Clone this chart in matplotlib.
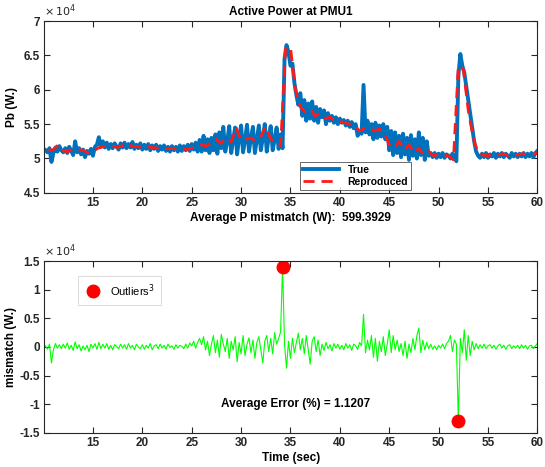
import numpy as np
import matplotlib
matplotlib.use("Agg")
import matplotlib.pyplot as plt

plt.rcParams['font.family'] = ['Liberation Sans', 'DejaVu Sans']

# Active power at PMU1 (x 1e4 W), sampled every 0.2 s from 10.2 s to 60.0 s
t_true = np.linspace(10.2, 60.0, 250)
p_true = [
    5.12, 5.09, 5.15, 4.95, 5.08, 5.16, 5.10, 5.18, 5.12, 5.09,
    5.15, 5.08, 5.17, 5.11, 5.05, 5.25, 5.09, 5.15, 5.06, 5.13,
    5.02, 5.11, 5.07, 5.14, 5.04, 5.17, 5.20, 5.31, 5.17, 5.25,
    5.16, 5.23, 5.14, 5.21, 5.15, 5.22, 5.17, 5.13, 5.22, 5.16,
    5.23, 5.15, 5.21, 5.16, 5.24, 5.14, 5.20, 5.15, 5.22, 5.13,
    5.20, 5.14, 5.21, 5.12, 5.19, 5.14, 5.20, 5.11, 5.18, 5.13,
    5.19, 5.11, 5.17, 5.10, 5.18, 5.12, 5.17, 5.10, 5.19, 5.11,
    5.18, 5.12, 5.20, 5.11, 5.21, 5.13, 5.23, 5.10, 5.27, 5.10,
    5.33, 5.12, 5.28, 5.08, 5.30, 5.12, 5.35, 5.07, 5.38, 5.15,
    5.46, 5.10, 5.25, 5.47, 5.08, 5.28, 5.45, 5.06, 5.30, 5.48,
    5.09, 5.27, 5.49, 5.10, 5.30, 5.46, 5.08, 5.28, 5.48, 5.12,
    5.30, 5.50, 5.10, 5.32, 5.47, 5.12, 5.28, 5.45, 5.14, 5.35,
    5.15, 6.45, 6.65, 6.55, 6.35, 6.38, 6.10, 5.92, 5.78, 5.95,
    5.62, 5.85, 5.55, 5.80, 5.58, 5.83, 5.55, 5.75, 5.52, 5.72,
    5.60, 5.70, 5.50, 5.66, 5.55, 5.62, 5.52, 5.60, 5.50, 5.58,
    5.52, 5.56, 5.48, 5.55, 5.46, 5.53, 5.44, 5.50, 5.33, 5.40,
    5.36, 6.07, 5.38, 5.55, 5.35, 5.50, 5.28, 5.52, 5.30, 5.48,
    5.32, 5.50, 5.28, 5.46, 5.12, 5.40, 5.05, 5.38, 5.08, 5.33,
    5.02, 5.36, 5.06, 5.30, 4.98, 5.34, 5.04, 5.28, 5.00, 5.38,
    5.05, 5.30, 4.98, 5.25, 5.04, 5.08, 5.02, 5.08, 5.01, 5.07,
    5.02, 5.08, 5.01, 5.06, 5.04, 5.00, 5.07, 5.02, 4.96, 6.20,
    6.52, 6.35, 6.25, 6.05, 5.85, 5.65, 5.45, 5.25, 5.10, 5.04,
    5.01, 5.07, 5.02, 5.08, 5.01, 5.06, 5.03, 5.08, 5.01, 5.07,
    5.03, 5.08, 5.02, 5.07, 5.04, 5.01, 5.08, 5.03, 5.07, 5.02,
    5.07, 5.03, 5.08, 5.02, 5.07, 5.03, 5.08, 5.02, 5.08, 5.11,
]

# Reproduced power (x 1e4 W), every 0.5 s from 10.5 s to 60.0 s
t_rep = np.linspace(10.5, 60.0, 100)
p_rep = [
    5.12, 5.13, 5.20, 5.11, 5.10, 5.14, 5.13, 5.12, 5.08, 5.10,
    5.15, 5.17, 5.19, 5.18, 5.16, 5.19, 5.20, 5.18, 5.17, 5.16,
    5.17, 5.16, 5.15, 5.16, 5.14, 5.15, 5.13, 5.14, 5.13, 5.15,
    5.16, 5.20, 5.18, 5.24, 5.28, 5.22, 5.30, 5.24, 5.45, 5.26,
    5.28, 5.30, 5.25, 5.32, 5.47, 5.28, 5.25, 5.18, 6.60, 6.62,
    6.00, 5.75, 5.68, 5.72, 5.62, 5.66, 5.58, 5.60, 5.55, 5.54,
    5.52, 5.50, 5.48, 5.40, 5.44, 5.45, 5.40, 5.43, 5.38, 5.20,
    5.15, 5.25, 5.12, 5.20, 5.08, 5.15, 5.05, 5.10, 5.04, 5.06,
    5.05, 5.04, 4.98, 6.35, 6.30, 5.70, 5.30, 5.08, 5.05, 5.04,
    5.06, 5.05, 5.07, 5.04, 5.06, 5.05, 5.07, 5.05, 5.06, 5.08,
]

# Mismatch between true and reproduced power (x 1e4 W), same grid as t_true
mismatch = [
    0.02, -0.04, 0.05, -0.28, -0.05, 0.06, -0.02, 0.04, -0.03, 0.05,
    -0.02, 0.07, -0.04, 0.03, -0.06, 0.09, -0.03, 0.04, -0.07, 0.02,
    -0.05, 0.03, -0.08, 0.05, -0.02, 0.06, -0.04, 0.08, -0.03, 0.05,
    -0.02, 0.06, -0.04, 0.03, -0.05, 0.04, 0.01, -0.03, 0.05, -0.02,
    0.04, -0.04, 0.06, -0.02, 0.03, -0.05, 0.05, 0.00, -0.03, 0.04,
    -0.04, 0.03, -0.02, 0.06, -0.05, 0.02, 0.04, -0.03, 0.05, -0.02,
    0.03, -0.04, 0.05, -0.01, 0.02, -0.04, 0.04, -0.02, 0.03, 0.01,
    -0.03, 0.05, -0.02, 0.07, 0.02, 0.10, -0.02, 0.08, 0.15, 0.04,
    0.18, -0.05, 0.10, -0.15, 0.05, 0.20, -0.10, 0.12, -0.18, 0.22,
    0.05, -0.08, 0.15, -0.20, 0.10, -0.05, 0.18, -0.26, 0.08, -0.12,
    0.20, -0.15, 0.05, 0.16, -0.10, 0.12, -0.20, 0.08, 0.18, -0.05,
    -0.28, 0.10, 0.20, -0.08, 0.15, -0.12, 0.25, 0.05, 0.15, 0.26,
    1.40, 0.05, -0.37, 0.10, -0.20, 0.15, -0.10, 0.08, 0.24, -0.05,
    0.15, -0.12, 0.20, -0.05, -0.30, 0.10, 0.18, -0.08, 0.12, -0.15,
    0.05, -0.06, 0.08, -0.03, 0.04, -0.07, 0.06, -0.02, 0.05, -0.04,
    0.03, -0.05, 0.06, -0.02, 0.04, -0.06, 0.05, 0.02, -0.04, 0.08,
    0.02, 0.57, -0.10, 0.12, -0.05, 0.20, -0.18, 0.15, -0.25, 0.10,
    -0.08, 0.18, -0.15, 0.05, 0.30, -0.10, 0.20, -0.05, 0.12, -0.08,
    0.06, -0.15, 0.10, -0.20, 0.05, -0.10, 0.15, -0.05, 0.20, 0.33,
    -0.10, 0.12, -0.05, 0.08, -0.03, 0.05, -0.04, 0.02, -0.05, 0.03,
    -0.02, 0.05, -0.03, 0.06, 0.10, 0.20, -0.08, 0.12, 0.05, -1.30,
    0.15, -0.10, 0.30, -0.23, 0.20, -0.15, 0.10, -0.05, 0.06, -0.03,
    0.04, -0.02, 0.05, -0.03, 0.02, 0.04, -0.02, 0.03, -0.04, 0.02,
    0.05, -0.02, 0.03, -0.04, 0.02, 0.04, -0.03, 0.02, -0.02, 0.03,
    -0.03, 0.04, -0.02, 0.03, -0.04, 0.02, 0.03, -0.03, 0.02, 0.06,
]

outlier_t = [34.2, 52.0]
outlier_v = [1.40, -1.30]

avg_p_mismatch = 599.3929
avg_error_pct = 1.1207

x_ticks = [15, 20, 25, 30, 35, 40, 45, 50, 55, 60]
top_yticks = [4.5, 5, 5.5, 6, 6.5, 7]
bot_yticks = [-1.5, -1, -0.5, 0, 0.5, 1, 1.5]


def fmt(v):
    return ('%g' % v)


def style_axes(ax, yticks):
    ax.set_xlim(10.06, 60)
    ax.set_xticks(x_ticks)
    ax.set_xticklabels([fmt(v) for v in x_ticks], fontweight='bold', fontsize=8.5)
    ax.set_yticks(yticks)
    ax.set_yticklabels([fmt(v) for v in yticks], fontweight='bold', fontsize=8.5)
    ax.set_ylim(yticks[0], yticks[-1])
    ax.tick_params(direction='in', length=4, width=0.8, color='#262626',
                   top=True, right=True, pad=3, labelcolor='#262626')
    for s in ax.spines.values():
        s.set_color('#262626')
        s.set_linewidth(0.8)
    ax.text(0.0, 1.01, r'$\times\,10^4$', transform=ax.transAxes,
            fontsize=8, color='#262626', ha='left', va='bottom')


fig = plt.figure(figsize=(5.45, 4.67), dpi=100)
ax1 = fig.add_axes([0.081, 0.587, 0.905, 0.368])
ax2 = fig.add_axes([0.081, 0.073, 0.905, 0.368])

# upper panel: measured vs reproduced power
ax1.plot(t_true, p_true, color='#0072BD', lw=2.8, label='True')
ax1.plot(t_rep, p_rep, color='#ff1a1a', lw=2.0, ls=(0, (4, 2.5)), label='Reproduced')
style_axes(ax1, top_yticks)
ax1.set_title('Active Power at PMU1', fontweight='bold', fontsize=8.5, pad=4)
ax1.set_ylabel('Pb (W.)', fontweight='bold', fontsize=8.5, labelpad=4)
ax1.set_xlabel('Average P mistmatch (W):  %.4f' % avg_p_mismatch,
               fontweight='bold', fontsize=8.5, labelpad=2)
leg1 = ax1.legend(loc='lower left', bbox_to_anchor=(0.518, 0.017),
                  prop={'weight': 'bold', 'size': 7.5}, fancybox=False,
                  edgecolor='#262626', handlelength=3.5, borderpad=0.3,
                  labelspacing=0.2, handletextpad=0.8, borderaxespad=0)
leg1.get_frame().set_linewidth(0.6)

# lower panel: mismatch with flagged outliers
ax2.plot(t_true, mismatch, color='#00ff00', lw=0.8)
ax2.plot(outlier_t, outlier_v, 'o', color='red', ms=9, ls='none', label='Outliers$^3$')
style_axes(ax2, bot_yticks)
ax2.set_ylabel('mismatch (W.)', fontweight='bold', fontsize=8.5, labelpad=2)
ax2.set_xlabel('Time (sec)', fontweight='bold', fontsize=8.5, labelpad=2)
ax2.text(35.5, -1.0, 'Average Error (%%) = %.4f' % avg_error_pct,
         fontweight='bold', fontsize=8.5, ha='center', va='center')
leg2 = ax2.legend(loc='upper left', bbox_to_anchor=(0.069, 0.913),
                  prop={'size': 8}, fancybox=False, edgecolor='#cccccc',
                  borderpad=0.55, handletextpad=0.8, borderaxespad=0,
                  handlelength=1.5)
leg2.get_frame().set_linewidth(0.6)

fig.savefig('out.png', dpi=100)
